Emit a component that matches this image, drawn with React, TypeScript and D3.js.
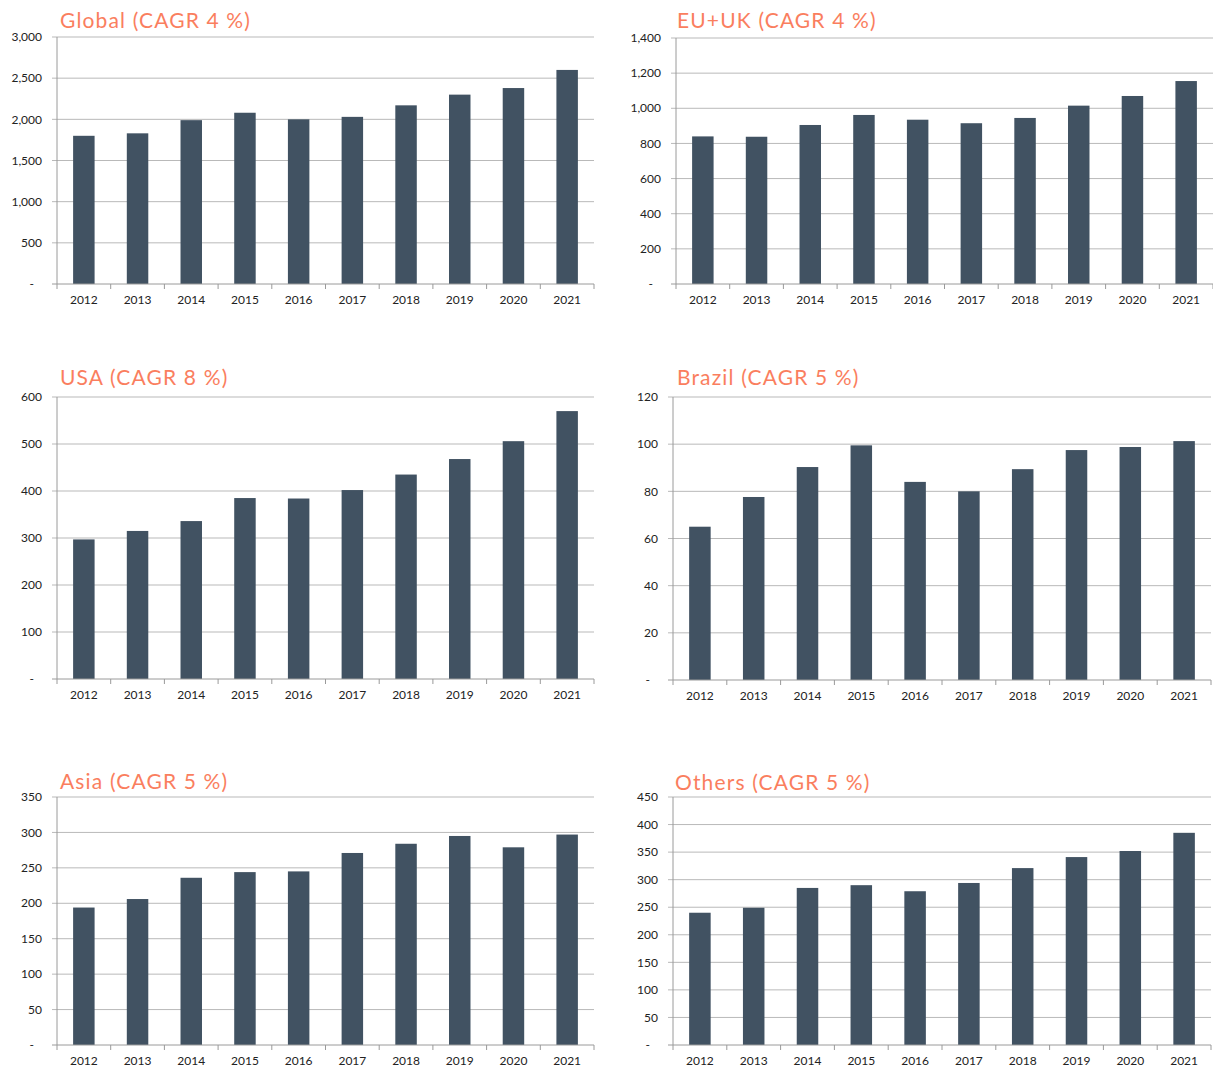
import React from "react";
import * as d3 from "d3";

const years = ["2012", "2013", "2014", "2015", "2016", "2017", "2018", "2019", "2020", "2021"];

const globalValues = [1800, 1830, 1990, 2080, 2000, 2030, 2170, 2300, 2380, 2600];
const euukValues = [840, 838, 905, 962, 935, 915, 945, 1015, 1070, 1155];
const usaValues = [297, 315, 336, 385, 384, 402, 435, 468, 506, 570];
const brazilValues = [65, 77.6, 90.3, 99.5, 84, 80, 89.4, 97.5, 98.8, 101.3];
const asiaValues = [194, 206, 236, 244, 245, 271, 284, 295, 279, 297];
const othersValues = [240, 249, 285, 290, 279, 294, 321, 341, 352, 385];

const titles = [
  "Global (CAGR 4 %)",
  "EU+UK (CAGR 4 %)",
  "USA (CAGR 8 %)",
  "Brazil (CAGR 5 %)",
  "Asia (CAGR 5 %)",
  "Others (CAGR 5 %)",
];
const yMaxes = [3000, 1400, 600, 120, 350, 450];
const ySteps = [500, 200, 100, 20, 50, 50];
const seriesList = [globalValues, euukValues, usaValues, brazilValues, asiaValues, othersValues];

const layouts = [
  { left: 57, right: 594, top: 37, bottom: 284, titleX: 60, titleY: 28 },
  { left: 676, right: 1213, top: 38, bottom: 284, titleX: 677, titleY: 28 },
  { left: 57, right: 594, top: 397, bottom: 679, titleX: 60, titleY: 385 },
  { left: 673, right: 1211, top: 397, bottom: 680, titleX: 677, titleY: 385 },
  { left: 57, right: 594, top: 797, bottom: 1045, titleX: 60, titleY: 789 },
  { left: 673, right: 1211, top: 797, bottom: 1045, titleX: 675, titleY: 790 },
];

const FONT = "Lato, 'DejaVu Sans', sans-serif";
const BAR = "#415262";
const GRID = "#b9b9b9";
const AXIS = "#9a9a9a";
const TITLE = "#FA7E5E";
const fmt = d3.format(",");

function Panel({ idx }: { idx: number }) {
  const L = layouts[idx];
  const values = seriesList[idx];
  const x = d3.scaleBand<string>().domain(years).range([L.left, L.right]).paddingInner(0.6).paddingOuter(0.3);
  const band = d3.scaleBand<string>().domain(years).range([L.left, L.right]).padding(0);
  const y = d3.scaleLinear().domain([0, yMaxes[idx]]).range([L.bottom, L.top]);
  const ticks = d3.range(0, yMaxes[idx] + ySteps[idx] / 2, ySteps[idx]);
  const boundaries = years.map((yr) => band(yr) as number).concat([L.right]);
  return (
    <g>
      <text x={L.titleX} y={L.titleY} fill={TITLE} fontSize={21} fontFamily={FONT} letterSpacing={1.15}>
        {titles[idx]}
      </text>
      {ticks.map((t) => (
        <g key={t}>
          {t > 0 && (
            <line x1={L.left - 5} x2={L.right} y1={y(t)} y2={y(t)} stroke={GRID} strokeWidth={1} />
          )}
          <text
            x={t === 0 ? L.left - 23 : L.left - 15}
            y={y(t)}
            dy="0.35em"
            textAnchor="end"
            fontSize={12}
            fontFamily={FONT}
            fill="#222"
          >
            {t === 0 ? "-" : fmt(t)}
          </text>
        </g>
      ))}
      {values.map((v, i) => (
        <rect
          key={years[i]}
          x={x(years[i])}
          width={x.bandwidth()}
          y={y(v)}
          height={y(0) - y(v)}
          fill={BAR}
        />
      ))}
      <line x1={L.left} x2={L.left} y1={L.top} y2={L.bottom} stroke={AXIS} strokeWidth={1} />
      <line x1={L.left - 5} x2={L.right} y1={L.bottom} y2={L.bottom} stroke={AXIS} strokeWidth={1} />
      {boundaries.map((b, i) => (
        <line key={i} x1={b} x2={b} y1={L.bottom} y2={L.bottom + 5} stroke={AXIS} strokeWidth={1} />
      ))}
      {years.map((yr) => (
        <text
          key={yr}
          x={(band(yr) as number) + band.bandwidth() / 2}
          y={L.bottom + 20}
          textAnchor="middle"
          fontSize={12}
          fontFamily={FONT}
          fill="#222"
        >
          {yr}
        </text>
      ))}
    </g>
  );
}

export default function App() {
  return (
    <svg width={1213} height={1068} style={{ position: "absolute", left: 0, top: 0, background: "#fff" }}>
      <rect x={0} y={0} width={1213} height={1068} fill="#fff" />
      {layouts.map((_, i) => (
        <Panel key={i} idx={i} />
      ))}
    </svg>
  );
}
